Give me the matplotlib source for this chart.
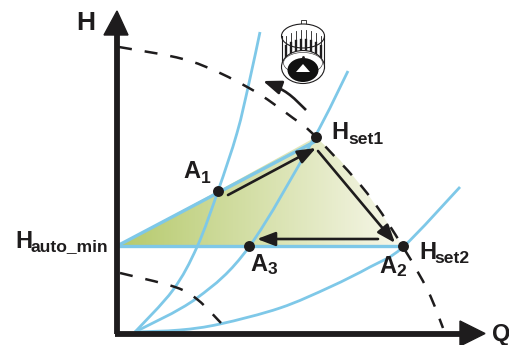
import matplotlib
matplotlib.use('Agg')
import matplotlib.pyplot as plt
import numpy as np
from matplotlib.patches import Ellipse, PathPatch, Polygon, Rectangle
from matplotlib.path import Path

plt.rcParams['font.family'] = ['Liberation Sans', 'DejaVu Sans']

curve_1_x = [135, 173, 197, 218, 237, 249, 260]
curve_1_y = [332, 290, 247, 191, 133, 83, 32]
curve_2_x = [135, 197, 249, 313, 348]
curve_2_y = [332, 298, 247, 140, 71]
curve_3_x = [135, 180, 220, 280, 330, 370, 403, 460]
curve_3_y = [332, 330, 324, 308, 287, 267, 247, 187]
dash_x = [119, 190, 249, 293, 316, 367, 403, 428, 443]
dash_y = [47, 61, 88, 118, 137, 193, 247, 291, 328]
low_dash_x = [120, 175, 198, 221]
low_dash_y = [273, 287, 300, 323]
region_x = [117, 218, 316, 340, 367, 385, 403]
region_y = [246, 191, 137, 160, 193, 219, 247]

points_x = [218, 316, 249, 403]
points_y = [191, 137, 246, 246]
edge_x = [117, 316]
edge_y = [246, 141]
base_x = [117, 403]
base_y = [246, 246]
flow_x = [228, 316, 318, 395, 378, 257]
flow_y = [195, 148, 151, 243, 239, 239]
turn_x = [306, 290, 274, 263]
turn_y = [110, 95, 85, 81]


# curva suave que pasa por los puntos leidos
def smooth_path(xs, ys):
    pts = np.column_stack([xs, ys]).astype(float)
    verts = [pts[0]]
    codes = [Path.MOVETO]
    for i in range(len(pts) - 1):
        p0 = pts[max(i - 1, 0)]
        p1 = pts[i]
        p2 = pts[i + 1]
        p3 = pts[min(i + 2, len(pts) - 1)]
        verts += [p1 + (p2 - p0) / 6, p2 - (p3 - p1) / 6, p2]
        codes += [Path.CURVE4] * 3
    return Path(verts, codes)


def draw_curve(xs, ys, **kw):
    ax.add_patch(PathPatch(smooth_path(xs, ys), fc='none', **kw))


fig = plt.figure(figsize=(5.10, 3.45), dpi=100)
ax = fig.add_axes([0, 0, 1, 1])
ax.set_xlim(0, 510)
ax.set_ylim(345, 0)
ax.axis('off')

# relleno con degradado
grad = np.linspace(0, 1, 256).reshape(1, -1, 1)
c0 = np.array([0.71, 0.79, 0.42]).reshape(1, 1, 3)
c1 = np.array([0.97, 0.97, 0.92]).reshape(1, 1, 3)
img = ax.imshow(c0 + (c1 - c0) * grad, extent=(117, 403, 247, 137), aspect='auto', zorder=1)
img.set_clip_path(Polygon(np.column_stack([region_x, region_y]), transform=ax.transData))
ax.set_xlim(0, 510)
ax.set_ylim(345, 0)

blue = '#7ec8e8'
black = '#1e1c1d'
draw_curve(curve_1_x, curve_1_y, ec=blue, lw=2.0, zorder=2)
draw_curve(curve_2_x, curve_2_y, ec=blue, lw=2.0, zorder=2)
draw_curve(curve_3_x, curve_3_y, ec=blue, lw=2.0, zorder=2)
ax.plot(edge_x, edge_y, color=blue, lw=2.4, zorder=2)
ax.plot(base_x, base_y, color=blue, lw=2.4, zorder=2)
draw_curve(dash_x, dash_y, ec=black, lw=1.8, ls=(0, (5.2, 5.2)), zorder=3)
draw_curve(low_dash_x, low_dash_y, ec=black, lw=1.8, ls=(0, (5.2, 5.2)), zorder=3)

# ejes
ax.plot([117.5, 117.5], [333.5, 30], color=black, lw=4.2, zorder=4, solid_capstyle='butt')
ax.plot([115, 470], [333.5, 333.5], color=black, lw=4.2, zorder=4, solid_capstyle='butt')
ax.add_patch(Polygon([[117, 11], [104, 35], [128, 35]], color=black, zorder=5))
ax.add_patch(Polygon([[485, 333.5], [460, 321], [460, 346]], color=black, zorder=5))

# flechas
head = dict(arrowstyle='-|>,head_length=1.1,head_width=0.42', color=black, lw=1.9,
            shrinkA=0, shrinkB=0, mutation_scale=10)
for i in range(0, 6, 2):
    ax.annotate('', xy=(flow_x[i + 1], flow_y[i + 1]), xytext=(flow_x[i], flow_y[i]),
                arrowprops=head, zorder=6)
draw_curve(turn_x[:-1], turn_y[:-1], ec=black, lw=1.9, zorder=6)
ax.annotate('', xy=(turn_x[-1], turn_y[-1]), xytext=(turn_x[-2], turn_y[-2]),
            arrowprops=head, zorder=6)

ax.scatter(points_x, points_y, s=62, color=black, zorder=7, linewidths=0)

# perilla de la bomba
ax.add_patch(Rectangle((301, 20), 5, 6, fc='white', ec=black, lw=0.6, zorder=8))
ax.add_patch(Rectangle((282, 36), 42, 32, fc='white', ec='none', zorder=8))
ax.add_patch(Ellipse((303, 36), 43, 24, fc='white', ec=black, lw=0.8, zorder=8))
ax.plot([282, 282], [36, 68], color=black, lw=0.8, zorder=8)
ax.plot([324, 324], [36, 68], color=black, lw=0.8, zorder=8)
for rx, top in zip([286, 291, 296, 301, 306, 311, 316, 321], [36, 33, 31, 30, 30, 31, 33, 36]):
    ax.plot([rx, rx], [top, top + 12], color=black, lw=0.6, zorder=9)
    ax.plot([rx, rx], [top + 10, top + 21], color=black, lw=1.7, zorder=9)
ax.add_patch(Ellipse((303, 67), 43, 33, fc='white', ec=black, lw=0.8, zorder=10))
ax.add_patch(Ellipse((303, 63), 39, 21, fc='white', ec=black, lw=0.4, zorder=10))
ax.add_patch(Ellipse((303, 70), 31, 24, fc='#111111', ec='none', zorder=11))
ax.add_patch(Polygon([[296, 72], [310, 72], [303, 64]], fc='white', ec='none', zorder=12))
ax.scatter([303], [57], s=4, color=black, zorder=12, linewidths=0)

# textos
big = 17
small = 12.6


def lab(x, y, main, sub=None, sub_x=None, sub_y=None, sub_size=small, size=big):
    ax.text(x, y, main, fontsize=size, fontweight='bold', color=black, zorder=13, va='baseline')
    if sub:
        ax.text(sub_x, sub_y, sub, fontsize=sub_size, fontweight='bold', color=black, zorder=13, va='baseline')


lab(76, 30, 'H', size=19)
lab(492, 341, 'Q', size=17)
lab(183, 178, 'A', '1', 201, 183, 12.5)
lab(331, 139, 'H', 'set1', 348, 144)
lab(15, 248, 'H', 'auto_min', 31, 251)
lab(419, 259, 'H', 'set2', 434, 263)
lab(379, 273, 'A', '2', 396, 276, 12.5)
lab(250, 271, 'A', '3', 268, 274, 12.5)

fig.savefig('out.png', dpi=100)
